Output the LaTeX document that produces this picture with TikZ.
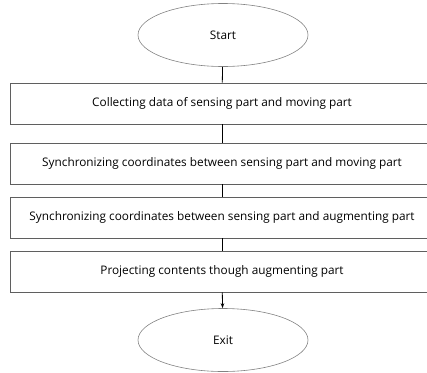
\documentclass[tikz,border=0pt]{standalone}
\usepackage{fontspec}
\setmainfont{Open Sans}
\usetikzlibrary{shapes.geometric,arrows.meta}
\definecolor{framegray}{RGB}{95,95,95}
\definecolor{ovalgray}{RGB}{130,130,130}
\tikzset{
  stepbox/.style={draw=framegray, line width=0.8pt, minimum width=424pt, minimum height=41pt, inner sep=0pt},
  terminal/.style={ellipse, draw=ovalgray, line width=0.6pt, minimum width=170pt, minimum height=63pt, inner sep=0pt},
  link/.style={draw=black, line width=0.8pt}
}
\begin{document}
\begin{tikzpicture}[x=1pt, y=-1pt, font=\fontsize{11.8}{13}\selectfont]
                \useasboundingbox (0,0) rectangle (427,372);

                % Start and exit ovals
                \node[terminal] (start) at (223,35) {Start};
                \node[terminal] (exit) at (223,340) {Exit};

                % Process steps
                \node[stepbox] (collect) at (222,103.5) {Collecting data of sensing part and moving part};
                \node[stepbox] (syncmove) at (222,163.5) {Synchronizing coordinates between sensing part and moving part};
                \node[stepbox] (syncaug) at (222,217.5) {Synchronizing coordinates between sensing part and augmenting part};
                \node[stepbox] (project) at (222,271.5) {Projecting contents though augmenting part};

                % Connectors
                \draw[link] (start) -- (collect);
                \draw[link] (collect) -- (syncmove);
                \draw[link] (syncmove) -- (syncaug);
                \draw[link] (syncaug) -- (project);
                \draw[link, -{Stealth[length=5pt, width=3.5pt]}] (project) -- (exit);
            \end{tikzpicture}
\end{document}
